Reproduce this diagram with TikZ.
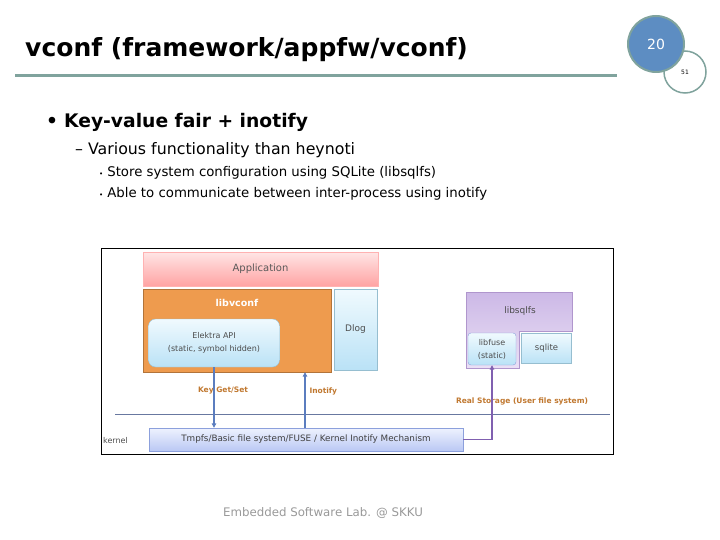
\documentclass[tikz,border=0pt]{standalone}
\usepackage{fontspec}
\setmainfont{DejaVu Sans}
\usepackage{tikz}
\usetikzlibrary{positioning, calc, arrows.meta}
\definecolor{rulegreen}{RGB}{128, 163, 157}
\definecolor{pageblue}{RGB}{93, 141, 194}
\definecolor{vconforange}{RGB}{238, 155, 78}
\definecolor{labelbrown}{RGB}{192, 120, 48}
\definecolor{arrowblue}{RGB}{91, 125, 191}
\definecolor{arrowpurple}{RGB}{128, 96, 176}
\definecolor{kernelline}{RGB}{104, 120, 160}
\definecolor{skytop}{RGB}{240, 250, 254}
\definecolor{skybottom}{RGB}{186, 226, 246}
\definecolor{skyedge}{RGB}{150, 190, 208}
\definecolor{kerntop}{RGB}{238, 242, 254}
\definecolor{kernbottom}{RGB}{186, 200, 244}
\definecolor{kernedge}{RGB}{140, 160, 220}
\definecolor{sqlfstop}{RGB}{204, 184, 230}
\definecolor{sqlfsbottom}{RGB}{234, 224, 245}
\definecolor{sqlfsedge}{RGB}{176, 150, 205}

\begin{document}
\begin{tikzpicture}[
        x=1pt, y=-1pt,
        appbox/.style = {draw=red!30, shading=axis, top color=red!10, bottom color=red!36, minimum width=235pt, minimum height=34pt, font=\fontsize{10}{11}\selectfont, text=black!65},
        libbox/.style = {draw=vconforange!75!black, fill=vconforange, minimum width=188pt, minimum height=83pt},
        lightbox/.style = {draw=skyedge, shading=axis, top color=skytop, bottom color=skybottom, align=center, font=\fontsize{8}{13}\selectfont, text=black!70},
        kbox/.style = {draw=kernedge, shading=axis, top color=kerntop, bottom color=kernbottom, minimum width=314pt, minimum height=23pt, font=\fontsize{8.8}{10}\selectfont, text=black!75},
        lbl/.style = {font=\bfseries\fontsize{7.5}{9}\selectfont, text=labelbrown},
        arrow/.style = {line width=1.2pt, -{Triangle[length=4.5pt, width=4.5pt]}}
    ]
        \useasboundingbox (0,0) rectangle (720,540);

        % Header
        \node [anchor=base west, font=\bfseries\fontsize{25}{28}\selectfont, inner sep=0] (title) at (25,57) {vconf (framework/appfw/vconf)};
        \draw [rulegreen, line width=3pt] (15,76) -- (617,76);
        \node [circle, draw=rulegreen, line width=1.5pt, fill=white, minimum size=42pt, font=\fontsize{6}{7}\selectfont, inner sep=0] (pagesub) at (685,72) {51};
        \node [circle, draw=rulegreen, line width=2pt, fill=pageblue, minimum size=56pt, text=white, font=\fontsize{14}{16}\selectfont, inner sep=0] (pagenum) at (656,44) {20};

        % Bullets
        \node [anchor=base west, font=\bfseries\fontsize{18.7}{21}\selectfont, inner sep=0] (b1) at (46,128) {\textbullet\hspace{6pt}Key-value fair + inotify};
        \node [anchor=base west, font=\fontsize{15.8}{18}\selectfont, inner sep=0] (b2) at (75,155) {\textendash\ Various functionality than heynoti};
        \node [anchor=base west, font=\fontsize{13.3}{15}\selectfont, inner sep=0] (b3) at (99,177) {{\scriptsize\textbullet}\hspace{4pt}Store system configuration using SQLite (libsqlfs)};
        \node [anchor=base west, font=\fontsize{13.3}{15}\selectfont, inner sep=0] (b4) at (99,198) {{\scriptsize\textbullet}\hspace{4pt}Able to communicate between inter-process using inotify};

        % Diagram frame
        \draw [black, line width=1pt] (101,248) rectangle (613,454);

        % Nodes
        \node [appbox] (app) at (260.5,269) {Application};
        \node [libbox] (vconf) at (237,330.5) {};
        \node [font=\bfseries\fontsize{9.5}{11}\selectfont, text=white] (vconfname) at (237,303) {libvconf};
        \node [lightbox, rounded corners=7pt, minimum width=131pt, minimum height=48pt] (elektra) at (214,343) {Elektra API\\(static, symbol hidden)};
        \node [lightbox, minimum width=43pt, minimum height=81pt, font=\fontsize{9}{10}\selectfont] (dlog) at (355.5,329.5) {Dlog};

        \shade [draw=sqlfsedge, top color=sqlfstop, bottom color=sqlfsbottom] (466,292) -- (572,292) -- (572,331) -- (519,331) -- (519,368) -- (466,368) -- cycle;
        \node [font=\fontsize{9}{10}\selectfont, text=black!70] (sqlfs) at (520,311) {libsqlfs};
        \node [lightbox, rounded corners=3pt, minimum width=48pt, minimum height=32pt, draw=kernedge] (fuse) at (492,349) {libfuse\\(static)};
        \node [lightbox, minimum width=50pt, minimum height=30pt, font=\fontsize{8.5}{10}\selectfont] (sqlite) at (546.5,348.5) {sqlite};

        \draw [kernelline] (115,414) -- (610,414);
        \node [anchor=west, font=\fontsize{8}{10}\selectfont, text=black!70, inner sep=0] (kname) at (103,441) {kernel};
        \node [kbox] (kernel) at (306,439.5) {Tmpfs/Basic file system/FUSE / Kernel Inotify Mechanism};

        % Connectors
        \node [lbl] (getset) at (223,391) {Key Get/Set};
        \node [lbl, anchor=west] (inotify) at (306,391) {Inotify};
        \node [lbl] (storage) at (522,401) {Real Storage (User file system)};
        \draw [arrow, arrowblue] (elektra.south) -- (elektra.south |- kernel.north);
        \draw [arrow, arrowblue] (kernel.north -| 305,0) -- (vconf.south -| 305,0);
        \draw [arrow, arrowpurple] (kernel.east) -| (fuse.south);

        % Footer
        \node [font=\fontsize{11.8}{14}\selectfont, text=black!40] (footer) at (323,513) {Embedded Software Lab. @ SKKU};
    \end{tikzpicture}
\end{document}
